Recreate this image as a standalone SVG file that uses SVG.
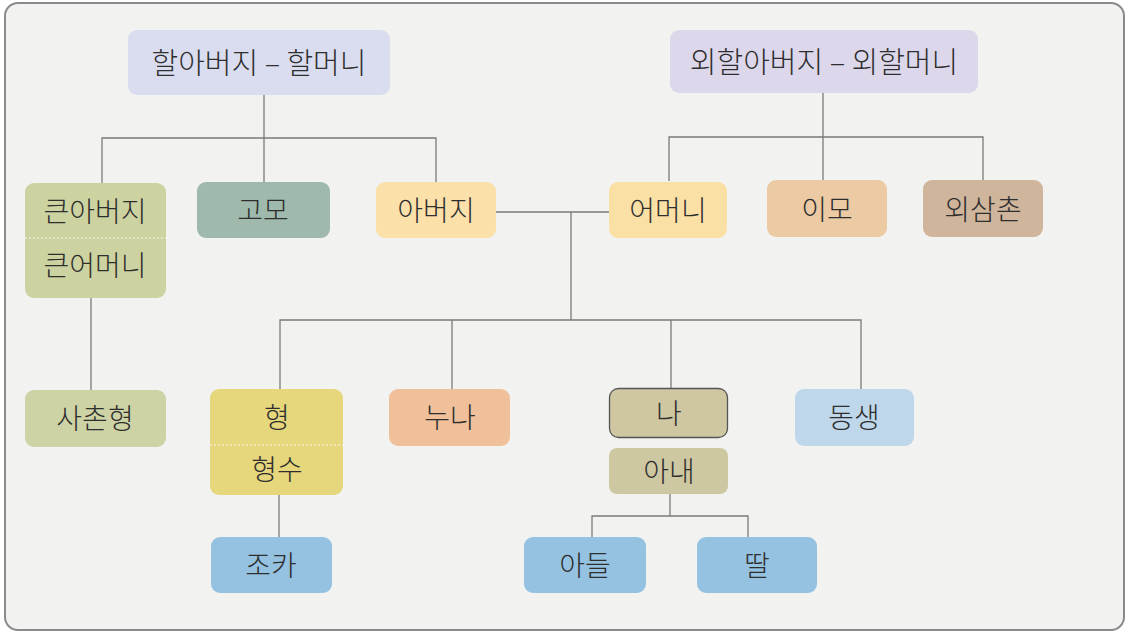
<svg xmlns="http://www.w3.org/2000/svg" width="1129" height="634" viewBox="0 0 1129 634">
<style>
.bg{fill:#f2f2f1;stroke:#8a8a8a;stroke-width:2}
.t{font-family:"Noto Sans CJK KR","Noto Sans",sans-serif;font-size:28px;font-weight:300;fill:#2e2e2e;text-anchor:middle;dominant-baseline:central}
.tt{font-size:29px}
.ln{fill:none;stroke:#7a7a7a;stroke-width:1.3}
.dv{stroke:#ffffff;stroke-width:1.2;stroke-dasharray:2 2;opacity:.85}
</style>
<rect class="bg" x="5" y="3" width="1119" height="627" rx="13"/>
<g id="connectors">
<path class="ln" d="M264 95V182M102 183V138H436V182"/>
<path class="ln" d="M823 93V180M669 181V137H983V180"/>
<path class="ln" d="M496 212H609M571 212V320M280 389V320H861V389M452 320V389M671 320V388"/>
<path class="ln" d="M91 298V390"/>
<path class="ln" d="M279 495V537"/>
<path class="ln" d="M670 494V516M592 537V516H748V537"/>
</g>
<g id="grandparents"><rect x="128" y="30" width="262" height="65" rx="9" fill="#d9ddef"/><text class="t tt" x="259" y="61">할아버지 – 할머니</text></g>
<g id="maternal-grandparents"><rect x="670" y="30" width="308" height="63" rx="9" fill="#ddd7ec"/><text class="t tt" x="824" y="60">외할아버지 – 외할머니</text></g>
<g id="uncle-aunt"><rect x="25" y="183" width="141" height="115" rx="9" fill="#cdd3a0"/><line class="dv" x1="25" y1="238" x2="166" y2="238"/><text class="t" x="95" y="210">큰아버지</text><text class="t" x="95" y="264">큰어머니</text></g>
<g id="gomo"><rect x="197" y="182" width="133" height="56" rx="9" fill="#9fbaad"/><text class="t" x="263" y="209">고모</text></g>
<g id="father"><rect x="376" y="182" width="120" height="56" rx="9" fill="#fbe0aa"/><text class="t" x="436" y="209">아버지</text></g>
<g id="mother"><rect x="609" y="182" width="118" height="56" rx="9" fill="#fbe0a6"/><text class="t" x="668" y="209">어머니</text></g>
<g id="imo"><rect x="767" y="180" width="120" height="57" rx="9" fill="#ebcaa4"/><text class="t" x="827" y="208">이모</text></g>
<g id="oesamchon"><rect x="923" y="180" width="120" height="57" rx="9" fill="#ceb59b"/><text class="t" x="983" y="208">외삼촌</text></g>
<g id="cousin"><rect x="25" y="390" width="141" height="57" rx="9" fill="#cdd3a5"/><text class="t" x="95" y="417">사촌형</text></g>
<g id="brother"><rect x="210" y="389" width="133" height="106" rx="9" fill="#e6d67c"/><line class="dv" x1="210" y1="445" x2="343" y2="445"/><text class="t" x="277" y="416">형</text><text class="t" x="277" y="468">형수</text></g>
<g id="sister"><rect x="389" y="389" width="121" height="57" rx="9" fill="#efc09a"/><text class="t" x="450" y="416">누나</text></g>
<g id="me"><rect x="609.5" y="388.5" width="118" height="49" rx="9" fill="#cec7a2" stroke="#555" stroke-width="1.3"/><text class="t" x="669" y="412">나</text></g>
<g id="wife"><rect x="609" y="448" width="119" height="46" rx="8" fill="#cec8a2"/><text class="t" x="669" y="470">아내</text></g>
<g id="younger-sibling"><rect x="795" y="389" width="119" height="57" rx="9" fill="#bfd7ea"/><text class="t" x="854" y="416">동생</text></g>
<g id="nephew"><rect x="211" y="537" width="121" height="56" rx="9" fill="#95c2e1"/><text class="t" x="271" y="564">조카</text></g>
<g id="son"><rect x="524" y="537" width="122" height="56" rx="9" fill="#95c2e1"/><text class="t" x="585" y="564">아들</text></g>
<g id="daughter"><rect x="697" y="537" width="120" height="56" rx="9" fill="#95c2e1"/><text class="t" x="757" y="564">딸</text></g>
</svg>
